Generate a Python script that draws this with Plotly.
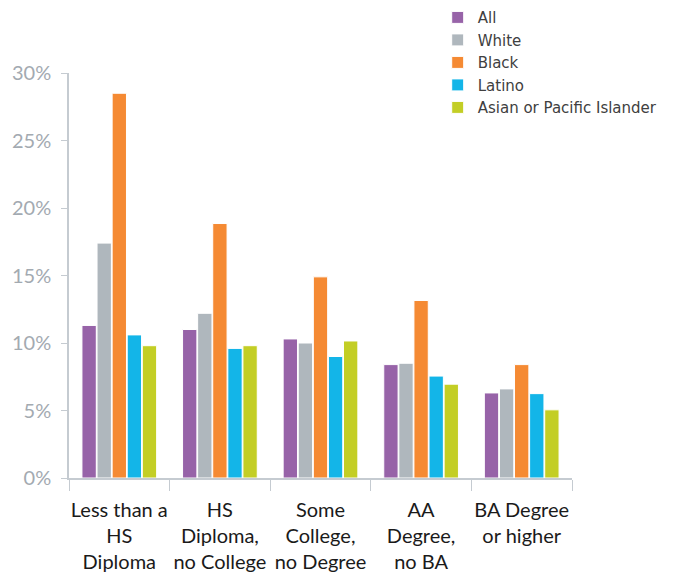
import plotly.graph_objects as go

categories = ["Less than a<br>HS<br>Diploma", "HS<br>Diploma,<br>no College",
              "Some<br>College,<br>no Degree", "AA<br>Degree,<br>no BA", "BA Degree<br>or higher"]
series_names = ["All", "White", "Black", "Latino", "Asian or Pacific Islander"]
all_vals = [11.3, 11.0, 10.3, 8.4, 6.3]
white_vals = [17.4, 12.2, 10.0, 8.5, 6.6]
black_vals = [28.5, 18.85, 14.9, 13.15, 8.4]
latino_vals = [10.6, 9.6, 9.0, 7.55, 6.25]
api_vals = [9.8, 9.8, 10.15, 6.95, 5.05]
colors = ["#9763A8", "#AFB7BD", "#F58A33", "#13B5E8", "#C3CE25"]

fig = go.Figure()
for name, vals, c in zip(series_names, [all_vals, white_vals, black_vals, latino_vals, api_vals], colors):
    fig.add_trace(go.Bar(x=categories, y=[v / 100 for v in vals], name=name,
                         marker=dict(color=c, line=dict(color="white", width=1))))

fig.update_layout(
    width=686, height=573,
    margin=dict(l=69, r=114, t=73, b=95, autoexpand=False),
    paper_bgcolor="white", plot_bgcolor="white",
    barmode="group", bargap=0.25, bargroupgap=0.05,
    font=dict(family="Lato", color="#222222"),
    legend=dict(x=0.733, y=0.998, xref="paper", yref="container",
                xanchor="left", yanchor="top",
                font=dict(family="DejaVu Sans", size=15, color="#404040"), tracegroupgap=0,
                itemwidth=30, bgcolor="rgba(0,0,0,0)"),
    showlegend=True,
)
fig.update_yaxes(range=[0, 0.30], tickvals=[0, 0.05, 0.10, 0.15, 0.20, 0.25, 0.30],
                 tickformat=".0%", showgrid=False, zeroline=False,
                 showline=True, linecolor="#C5CBD1", linewidth=1.5,
                 ticks="outside", ticklen=6, tickcolor="#C5CBD1",
                 ticklabelstandoff=6,
                 tickfont=dict(size=20, color="#A3AAB1"))
fig.update_xaxes(showgrid=False, showline=True, linecolor="#C5CBD1", linewidth=2,
                 ticks="outside", tickson="boundaries", ticklen=11, tickcolor="#C5CBD1",
                 ticklabelstandoff=13,
                 tickfont=dict(size=20, color="#1a1a1a"), tickangle=0)

fig.write_html("out.html")
